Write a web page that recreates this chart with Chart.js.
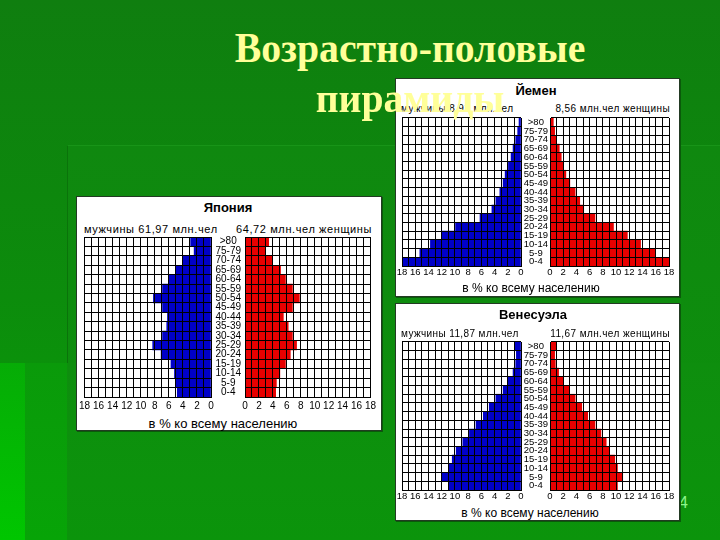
<!DOCTYPE html>
<html lang="ru">
<head>
<meta charset="utf-8">
<title>Возрастно-половые пирамиды</title>
<script src="https://cdn.jsdelivr.net/npm/chart.js@4.4.1/dist/chart.umd.min.js"></script>
<style>
  html, body { margin: 0; padding: 0; }
  body {
    width: 720px; height: 540px; position: relative; overflow: hidden;
    background: linear-gradient(180deg, #0f7e0f 0%, #0c8c0c 55%, #08a008 100%);
    font-family: "Liberation Sans", Arial, sans-serif;
  }
  .shade { position: absolute; }
  .panel { position: absolute; box-sizing: border-box; background: #fff; border: 1px solid #233a23; box-shadow: 1px 1px 0 #0a5a0a; }
  .txt { position: absolute; white-space: nowrap; line-height: 1; color: #000; transform: translateY(-50%); }
  canvas { position: absolute; }
  .title { position: absolute; left: 0; width: 820px; text-align: center; transform: translateY(-50%) scaleX(0.945);
    font-family: "Liberation Serif", "Times New Roman", serif; font-weight: bold; font-size: 42px;
    color: #ffff99; line-height: 1; z-index: 5; }
  .pageno { position: absolute; left: 679px; top: 494px; color: #8cf58c; font-size: 16px; }
</style>
</head>
<body>
<div class="shade" style="left:0;top:363px;width:25px;bottom:0;background:linear-gradient(180deg,#06ac06,#00c600);"></div>
<div class="shade" style="left:25px;top:363px;width:42px;bottom:0;background:linear-gradient(180deg,#0a9a0a,#07a407);"></div>
<div class="shade" style="left:67px;top:145px;right:0;bottom:0;background:linear-gradient(180deg,#0f880f,#0c920c);border-left:1px solid #0a730a;border-top:1px solid #189418;"></div>
<div class="shade" style="left:67px;top:363px;right:0;bottom:0;background:linear-gradient(180deg,#0e8e0e,#0b940b);"></div>

<div class="title" style="top:48px;">Возрастно-половые</div>
<div class="title" style="top:98px;">пирамиды</div>
<div class="pageno">4</div>

<script>
// age groups, bottom to top
const ages = ["0-4", "5-9", "10-14", "15-19", "20-24", "25-29", "30-34", "35-39", "40-44",
  "45-49", "50-54", "55-59", "60-64", "65-69", "70-74", "75-79", ">80"];

// % of the whole population, same order as ages
const japanMen   = [4.8, 5.0, 5.2, 5.7, 7.1, 8.3, 6.9, 6.3, 6.2, 6.9, 8.2, 6.9, 6.0, 5.0, 4.0, 2.4, 2.9];
const japanWomen = [4.4, 4.5, 5.0, 5.8, 6.5, 7.4, 6.8, 6.2, 5.5, 6.8, 7.8, 6.8, 5.8, 5.1, 3.9, 2.9, 3.4];

const yemenMen   = [18.0, 15.3, 13.7, 12.0, 9.9, 6.2, 4.4, 3.8, 3.2, 2.7, 2.4, 1.9, 1.5, 1.2, 0.8, 0.5, 0.3];
const yemenWomen = [18.0, 15.9, 13.7, 11.7, 9.6, 6.8, 5.1, 4.5, 3.8, 3.0, 2.4, 2.0, 1.7, 1.4, 1.0, 0.7, 0.5];

const venezuelaMen   = [10.9, 11.9, 10.9, 10.4, 9.8, 8.8, 7.8, 6.8, 5.7, 4.8, 3.8, 2.7, 2.0, 1.2, 0.8, 0.7, 0.9];
const venezuelaWomen = [10.2, 11.0, 10.2, 9.8, 9.0, 8.5, 7.7, 6.8, 5.7, 4.8, 3.8, 2.9, 2.0, 1.3, 0.8, 0.7, 1.0];

const axisMax = 18;
const caption = "в % ко всему населению";

const MEN_COLOR = "#0000c8";
const WOMEN_COLOR = "#e80000";
const SANS = "'Liberation Sans', Arial, sans-serif";

function addText(str, x, y, align, css) {
  const d = document.createElement("div");
  d.className = "txt";
  d.textContent = str;
  const w = 400;
  if (align === "center") { d.style.left = (x - w / 2) + "px"; d.style.width = w + "px"; d.style.textAlign = "center"; }
  else if (align === "right") { d.style.left = (x - w) + "px"; d.style.width = w + "px"; d.style.textAlign = "right"; }
  else d.style.left = x + "px";
  d.style.top = y + "px";
  Object.assign(d.style, css || {});
  document.body.appendChild(d);
}

function addCanvas(w, h) {
  const c = document.createElement("canvas");
  c.width = w; c.height = h;
  c.style.width = w + "px"; c.style.height = h + "px";
  document.body.appendChild(c);
  return c;
}

function textWidth(str, font) {
  const ctx = document.createElement("canvas").getContext("2d");
  ctx.font = font;
  return ctx.measureText(str).width;
}

// one half of a pyramid; men on the left with a reversed axis
function halfChart(canvas, values, isMen, p) {
  const gap = p.women[0] - p.men[1];
  const widest = Math.max(...ages.map(a => textWidth(a, p.ageSize + "px " + SANS)));
  const labelPad = Math.max(0, Math.round((gap - widest) / 2));

  return new Chart(canvas, {
    type: "bar",
    data: {
      labels: ages,
      datasets: [{ data: values, backgroundColor: isMen ? MEN_COLOR : WOMEN_COLOR,
        borderWidth: 0, barPercentage: 1, categoryPercentage: 1 }]
    },
    options: {
      indexAxis: "y",
      responsive: false,
      animation: false,
      layout: { padding: isMen ? { left: 8, right: 8, top: 14, bottom: 0 } : { left: 0, right: 8, top: 14, bottom: 0 } },
      plugins: { legend: { display: false }, tooltip: { enabled: false } },
      scales: {
        x: {
          min: 0, max: axisMax, reverse: isMen,
          grid: { color: "#000", lineWidth: 1, drawTicks: false, z: 1 },
          border: { color: "#000", width: 1, z: 1 },
          ticks: {
            stepSize: 1, autoSkip: false, maxRotation: 0, padding: p.tickPad, color: "#000",
            font: { family: SANS, size: p.tickSize },
            callback: v => (v % 2 === 0 ? v : "")
          },
          afterFit: s => { s.height = p.axisH; }
        },
        y: {
          reverse: true,
          position: isMen ? "right" : "left",
          grid: { color: "#000", lineWidth: 1, drawTicks: false, offset: true, z: 1 },
          border: { color: "#000", width: 1, z: 1 },
          ticks: {
            display: !isMen, autoSkip: false, crossAlign: "center", padding: labelPad, color: "#000",
            font: { family: SANS, size: p.ageSize, lineHeight: 1 }
          },
          afterFit: s => { s.width = isMen ? 0 : gap; }
        }
      }
    }
  });
}

// move the canvas so that its plot area sits on the wanted grid
function placeChart(chart, left, top) {
  const a = chart.chartArea;
  chart.canvas.style.left = Math.round(left - a.left) + "px";
  chart.canvas.style.top = Math.round(top - a.top) + "px";
}

function pyramid(p) {
  const box = document.createElement("div");
  box.className = "panel";
  box.style.left = p.box[0] + "px";
  box.style.top = p.box[1] + "px";
  box.style.width = (p.box[2] - p.box[0]) + "px";
  box.style.height = (p.box[3] - p.box[1]) + "px";
  document.body.appendChild(box);

  addText(p.title, p.titleX, p.titleY, "center", { fontWeight: "bold", fontSize: p.titleSize + "px" });
  const head = { fontSize: p.headSize + "px", letterSpacing: p.headSpacing + "px" };
  addText(p.menLabel, p.men[0] - 1, p.headY, "left", head);
  addText(p.womenLabel, p.women[1] + 1, p.headY, "right", head);
  addText(caption, p.capX, p.capY, "center", { fontSize: p.capSize + "px" });

  const gridH = p.grid[1] - p.grid[0];
  const menCanvas = addCanvas(p.men[1] - p.men[0] + 16, gridH + 14 + p.axisH);
  const menChart = halfChart(menCanvas, p.menData, true, p);
  placeChart(menChart, p.men[0], p.grid[0]);

  const womenCanvas = addCanvas(p.women[1] - p.men[1] + 8, gridH + 14 + p.axisH);
  const womenChart = halfChart(womenCanvas, p.womenData, false, p);
  placeChart(womenChart, p.women[0], p.grid[0]);
}

pyramid({
  box: [76, 196, 382, 431], title: "Япония", titleX: 228, titleY: 207, titleSize: 13,
  menLabel: "мужчины 61,97 млн.чел", womenLabel: "64,72 млн.чел женщины", headY: 229, headSize: 11, headSpacing: 0.6,
  men: [85, 212], women: [245, 371], grid: [237, 397],
  menData: japanMen, womenData: japanWomen,
  tickSize: 10, tickPad: 3, axisH: 16, ageSize: 10,
  capX: 223, capY: 423, capSize: 13
});

pyramid({
  box: [395, 78, 680, 297], title: "Йемен", titleX: 536, titleY: 90, titleSize: 13,
  menLabel: "мужчины 8,91 млн.чел", womenLabel: "8,56 млн.чел женщины", headY: 109, headSize: 10, headSpacing: 0.4,
  men: [402, 521], women: [550, 669], grid: [118, 266],
  menData: yemenMen, womenData: yemenWomen,
  tickSize: 9.5, tickPad: 1, axisH: 13, ageSize: 9.5,
  capX: 531, capY: 288, capSize: 12
});

pyramid({
  box: [395, 303, 680, 521], title: "Венесуэла", titleX: 533, titleY: 314, titleSize: 13,
  menLabel: "мужчины 11,87 млн.чел", womenLabel: "11,67 млн.чел женщины", headY: 334, headSize: 10, headSpacing: 0.4,
  men: [402, 521], women: [550, 669], grid: [342, 490],
  menData: venezuelaMen, womenData: venezuelaWomen,
  tickSize: 9.5, tickPad: 1, axisH: 13, ageSize: 9.5,
  capX: 530, capY: 513, capSize: 12
});
</script>
</body>
</html>
